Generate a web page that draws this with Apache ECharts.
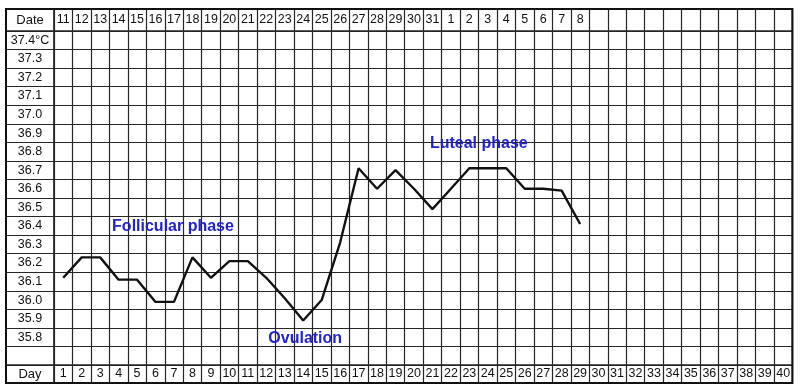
<!DOCTYPE html>
<html>
<head>
<meta charset="utf-8">
<script src="https://cdn.jsdelivr.net/npm/echarts@6/dist/echarts.min.js"></script>
<style>
html,body{margin:0;padding:0;background:#fff;}
#chart{width:800px;height:388px;}
</style>
</head>
<body>
<div id="chart"></div>
<script>
// Cycle day labels (bottom row)
const days = ['1','2','3','4','5','6','7','8','9','10','11','12','13','14','15','16','17','18','19','20',
              '21','22','23','24','25','26','27','28','29','30','31','32','33','34','35','36','37','38','39','40'];
// Calendar date labels (top row)
const dateLabels = ['11','12','13','14','15','16','17','18','19','20','21','22','23','24','25','26','27','28','29','30','31',
                    '1','2','3','4','5','6','7','8','','','','','','','','','','',''];
// Temperature row labels (bottom to top)
const tempLabels = ['','35.8','35.9','36.0','36.1','36.2','36.3','36.4','36.5','36.6','36.7','36.8','36.9',
                    '37.0','37.1','37.2','37.3','37.4°C'];
// Basal body temperature per cycle day (°C)
const temps = [36.12,36.23,36.23,36.11,36.11,35.99,35.99,36.23,36.12,36.21,36.21,36.12,36.01,35.89,36.00,
               36.31,36.71,36.60,36.70,36.60,36.49,36.60,36.71,36.71,36.71,36.60,36.60,36.59,36.41];
// Phase annotations
const annotTexts = ['Follicular phase','Luteal phase','Ovulation'];
const annotDays = ['7','24','14'];
const annotTemps = [36.4, 36.85, 35.8];

const FONT = 'Liberation Sans, Arial, Helvetica, sans-serif';
const LINE = {color:'#262626', width:1.2};
const textStyle = {color:'#111', fontSize:12.5, fontFamily:FONT};
const annotOffsets = [[-1,1],[-9,1],[2,1]];

const L = 6, M = 54, R = 7.6, T = 9, H1 = 22, MAINTOP = 31, MAINH = 334, DAYTOP = 365, DAYH = 18, LW = 48;
const gridStyle = {show:true, borderColor:'#222', borderWidth:1.2, backgroundColor:'transparent'};

const chart = echarts.init(document.getElementById('chart'), null, {renderer:'canvas'});
chart.setOption({
  animation:false,
  backgroundColor:'#fff',
  grid:[
    Object.assign({left:L, width:LW, top:MAINTOP, height:MAINH}, gridStyle),
    Object.assign({left:M, right:R, top:MAINTOP, height:MAINH}, gridStyle),
    Object.assign({left:M, right:R, top:T, height:H1}, gridStyle),
    Object.assign({left:M, right:R, top:DAYTOP, height:DAYH}, gridStyle),
    Object.assign({left:L, width:LW, top:T, height:H1}, gridStyle),
    Object.assign({left:L, width:LW, top:DAYTOP, height:DAYH}, gridStyle)
  ],
  xAxis:[
    {gridIndex:0, type:'value', show:false, min:0, max:1},
    {gridIndex:1, type:'category', data:days, boundaryGap:true,
     axisLine:{show:false}, axisTick:{show:false}, axisLabel:{show:false},
     splitLine:{show:true, interval:0, lineStyle:LINE}},
    {gridIndex:2, type:'category', data:days, boundaryGap:true,
     axisLine:{show:false}, axisTick:{show:false},
     axisLabel:Object.assign({inside:true, interval:0, margin:11, verticalAlign:'middle', align:'center',
       formatter:(v,i)=>dateLabels[i]}, textStyle),
     splitLine:{show:true, interval:0, lineStyle:LINE}},
    {gridIndex:3, type:'category', data:days, boundaryGap:true,
     axisLine:{show:false}, axisTick:{show:false},
     axisLabel:Object.assign({inside:true, interval:0, margin:9, verticalAlign:'middle', align:'center'}, textStyle),
     splitLine:{show:true, interval:0, lineStyle:LINE}},
    {gridIndex:4, type:'value', show:false, min:0, max:1},
    {gridIndex:5, type:'value', show:false, min:0, max:1}
  ],
  yAxis:[
    {gridIndex:0, type:'category', data:tempLabels, boundaryGap:true,
     axisLine:{show:false}, axisTick:{show:false},
     axisLabel:Object.assign({inside:true, interval:0, margin:24, align:'center', verticalAlign:'middle'}, textStyle),
     splitLine:{show:true, interval:0, lineStyle:LINE}},
    {gridIndex:1, type:'value', min:35.65, max:37.45, interval:0.1,
     axisLine:{show:false}, axisTick:{show:false}, axisLabel:{show:false},
     splitLine:{show:true, lineStyle:LINE}},
    {gridIndex:2, type:'value', show:false, min:0, max:1},
    {gridIndex:3, type:'value', show:false, min:0, max:1},
    {gridIndex:4, type:'category', data:['Date'],
     axisLine:{show:false}, axisTick:{show:false}, splitLine:{show:false},
     axisLabel:Object.assign({inside:true, margin:24, align:'center', verticalAlign:'middle'}, textStyle, {fontSize:13})},
    {gridIndex:5, type:'category', data:['Day'],
     axisLine:{show:false}, axisTick:{show:false}, splitLine:{show:false},
     axisLabel:Object.assign({inside:true, margin:24, align:'center', verticalAlign:'middle'}, textStyle, {fontSize:13})}
  ],
  graphic:[{
    type:'rect', silent:true, z:100,
    shape:{x:L, y:T, width:800-R-L, height:DAYTOP+DAYH-T},
    style:{fill:'none', stroke:'#111', lineWidth:2}
  }],
  series:[{
    type:'line', xAxisIndex:1, yAxisIndex:1, data:temps,
    symbol:'none', lineStyle:{color:'#111', width:2.4}, z:10,
    markPoint:{
      symbol:'circle', symbolSize:0, silent:true,
      label:{show:true, position:'inside', formatter:p=>p.name,
        color:'#2323c8', fontSize:16, fontWeight:'bold', fontFamily:FONT},
      data:annotTexts.map((t,i)=>({name:t, coord:[annotDays[i], annotTemps[i]], label:{offset:annotOffsets[i]}}))
    }
  }]
});
</script>
</body>
</html>
